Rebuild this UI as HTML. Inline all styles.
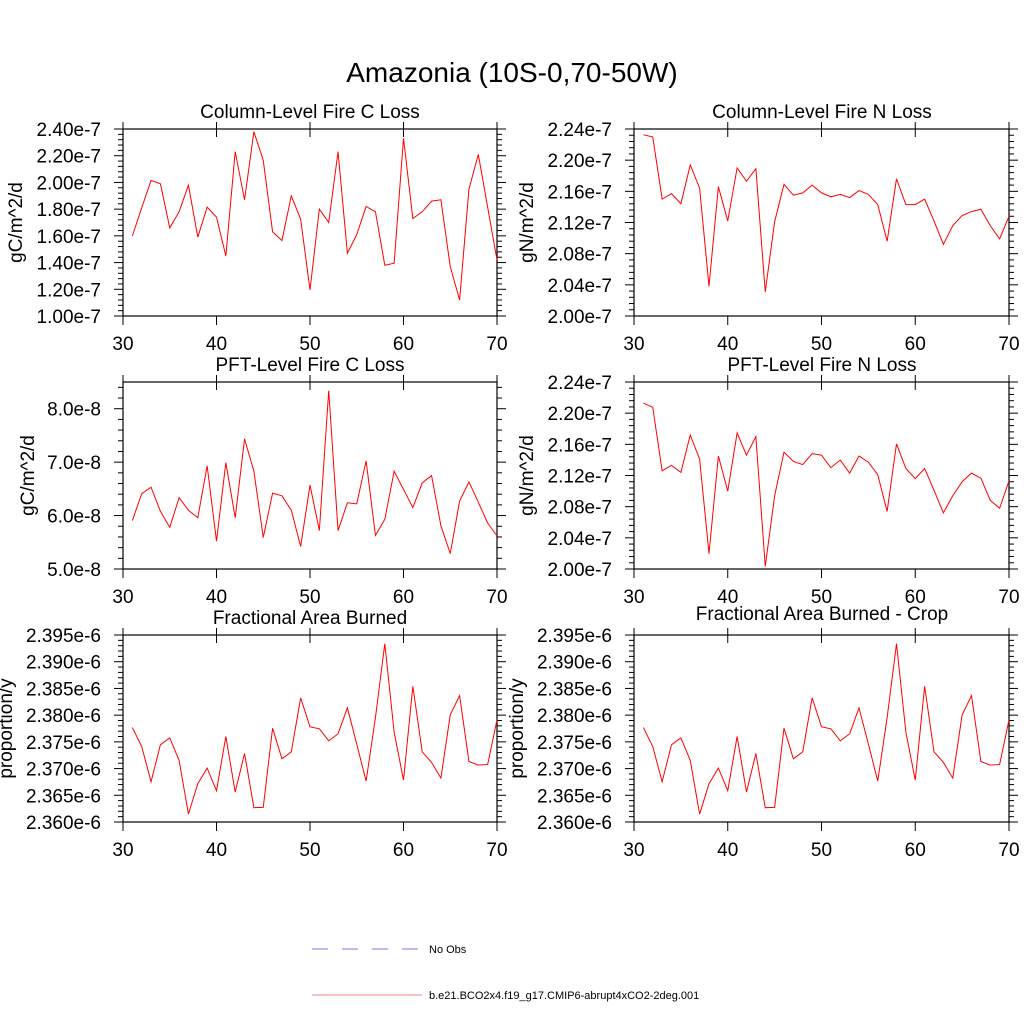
<!DOCTYPE html>
<html><head><meta charset="utf-8"><style>
body{margin:0;background:#fff;}
svg{display:block;font-family:"Liberation Sans",sans-serif;}
</style></head><body>
<svg id="chart" width="1024" height="1024" viewBox="0 0 1024 1024">
<text x="512" y="82" font-size="28" text-anchor="middle">Amazonia (10S-0,70-50W)</text>
<g>
<line x1="312" y1="949" x2="420" y2="949" stroke="#7777ee" stroke-width="1" stroke-dasharray="16,14"/>
<text x="429" y="953" font-size="11">No Obs</text>
<line x1="312" y1="995" x2="422" y2="995" stroke="#f08080" stroke-width="1"/>
<text x="429" y="999" font-size="11">b.e21.BCO2x4.f19_g17.CMIP6-abrupt4xCO2-2deg.001</text>
</g>
</svg>
<script>
const years = [];
for (let y = 31; y <= 70; y++) years.push(y);
const xTicks = [30, 40, 50, 60, 70];

const fireCLoss = [1.60,1.81,2.015,1.99,1.66,1.78,1.98,1.59,1.815,1.74,1.45,2.23,1.87,2.38,2.165,1.63,1.565,1.90,1.725,1.195,1.80,1.70,2.23,1.47,1.61,1.82,1.78,1.38,1.395,2.33,1.73,1.78,1.86,1.87,1.37,1.12,1.95,2.21,1.815,1.42];
const fireNLoss = [2.2327,2.2297,2.150,2.157,2.144,2.194,2.164,2.038,2.166,2.122,2.190,2.173,2.189,2.031,2.121,2.169,2.155,2.158,2.168,2.158,2.153,2.156,2.152,2.161,2.156,2.143,2.096,2.176,2.143,2.143,2.150,2.122,2.092,2.116,2.129,2.134,2.137,2.116,2.099,2.128];
const pftCLoss = [5.907,6.41,6.53,6.08,5.78,6.335,6.10,5.96,6.93,5.52,6.99,5.96,7.435,6.83,5.59,6.42,6.37,6.10,5.42,6.57,5.72,8.335,5.72,6.24,6.22,7.025,5.63,5.93,6.83,6.49,6.15,6.61,6.75,5.81,5.29,6.27,6.63,6.25,5.86,5.62];
const pftNLoss = [2.213,2.2075,2.126,2.133,2.124,2.172,2.141,2.0196,2.145,2.100,2.1746,2.146,2.170,2.0034,2.094,2.150,2.138,2.134,2.148,2.146,2.130,2.140,2.123,2.145,2.137,2.121,2.074,2.1605,2.129,2.116,2.129,2.101,2.072,2.094,2.112,2.123,2.1165,2.088,2.078,2.113];
const areaBurned = [2.37768,2.37413,2.36753,2.37445,2.37575,2.37152,2.36149,2.36716,2.37009,2.36585,2.37600,2.36560,2.37283,2.36268,2.36274,2.37756,2.37183,2.37314,2.38323,2.37781,2.37744,2.37519,2.37650,2.38136,2.37457,2.36766,2.37955,2.39337,2.37681,2.36785,2.38540,2.37314,2.37115,2.36822,2.38005,2.38366,2.37133,2.37065,2.37077,2.37912];
const areaBurnedCrop = areaBurned.slice();

const cLossTicks = ["1.00e-7","1.20e-7","1.40e-7","1.60e-7","1.80e-7","2.00e-7","2.20e-7","2.40e-7"];
const nLossTicks = ["2.00e-7","2.04e-7","2.08e-7","2.12e-7","2.16e-7","2.20e-7","2.24e-7"];
const pftCTicks = ["5.0e-8","6.0e-8","7.0e-8","8.0e-8"];
const areaTicks = ["2.360e-6","2.365e-6","2.370e-6","2.375e-6","2.380e-6","2.385e-6","2.390e-6","2.395e-6"];

const panels = [
 {name:'column-fire-c', title:'Column-Level Fire C Loss', ytitle:'gC/m^2/d', data:fireCLoss, ymin:1.0, ymax:2.4, step:0.2, ticks:cLossTicks, x0:123, x1:497, y0:129, y1:316, tx:310, ty:118, ytx:22},
 {name:'column-fire-n', title:'Column-Level Fire N Loss', ytitle:'gN/m^2/d', data:fireNLoss, ymin:2.0, ymax:2.24, step:0.04, ticks:nLossTicks, x0:634, x1:1009, y0:129, y1:316, tx:822, ty:118, ytx:533},
 {name:'pft-fire-c', title:'PFT-Level Fire C Loss', ytitle:'gC/m^2/d', data:pftCLoss, ymin:5.0, ymax:8.5, step:1.0, ticks:pftCTicks, x0:123, x1:497, y0:382, y1:569, tx:310, ty:371, ytx:34},
 {name:'pft-fire-n', title:'PFT-Level Fire N Loss', ytitle:'gN/m^2/d', data:pftNLoss, ymin:2.0, ymax:2.24, step:0.04, ticks:nLossTicks, x0:634, x1:1009, y0:382, y1:569, tx:822, ty:371, ytx:533},
 {name:'area-burned', title:'Fractional Area Burned', ytitle:'proportion/y', data:areaBurned, ymin:2.360, ymax:2.395, step:0.005, ticks:areaTicks, x0:123, x1:497, y0:635, y1:822, tx:310, ty:624, ytx:12},
 {name:'area-burned-crop', title:'Fractional Area Burned - Crop', ytitle:'proportion/y', data:areaBurnedCrop, ymin:2.360, ymax:2.395, step:0.005, ticks:areaTicks, x0:634, x1:1009, y0:635, y1:822, tx:822, ty:620, ytx:523}
];

const NS = 'http://www.w3.org/2000/svg';
const svg = document.getElementById('chart');
function mk(tag, attrs, parent, txt){
  const e = document.createElementNS(NS, tag);
  for (const k in attrs) e.setAttribute(k, attrs[k]);
  if (txt !== undefined) e.textContent = txt;
  parent.appendChild(e);
  return e;
}
panels.forEach(p => {
  const g = mk('g', {}, svg);
  
  
  const xs = v => p.x0 + (v - 30) / 40 * (p.x1 - p.x0);
  const ys = v => p.y1 - (v - p.ymin) / (p.ymax - p.ymin) * (p.y1 - p.y0);
  const fr = mk('rect', {x:p.x0, y:p.y0, width:p.x1-p.x0, height:p.y1-p.y0, fill:'none', stroke:'#000', 'stroke-width':1.2}, g);
  
  
  xTicks.forEach(t => {
    const x = xs(t);
    mk('line', {x1:x, y1:p.y1, x2:x, y2:p.y1+9, stroke:'#000', 'stroke-width':1}, g);
    mk('line', {x1:x, y1:p.y0-7, x2:x, y2:p.y0+8, stroke:'#000', 'stroke-width':1}, g);
    const lb = mk('text', {x:x, y:p.y1+34, 'font-size':19, 'text-anchor':'middle'}, g, String(t));
    
    
  });
  const minorStep = p.step / 5;
  for (let v = p.ymin; v <= p.ymax + 1e-9; v += minorStep) {
    const y = ys(v);
    const k = Math.round((v - p.ymin) / minorStep);
    const major = k % 5 === 0;
    const L = major ? 9 : 5;
    mk('line', {x1:p.x0-L, y1:y, x2:p.x0, y2:y, stroke:'#000', 'stroke-width':1}, g);
    mk('line', {x1:p.x1, y1:y, x2:p.x1+L, y2:y, stroke:'#000', 'stroke-width':1}, g);
  }
  p.ticks.forEach((lbl, i) => {
    const y = ys(p.ymin + i * p.step);
    const t = mk('text', {x:p.x0-22, y:y+7, 'font-size':19, 'text-anchor':'end'}, g, lbl);
    
    
  });
  const cy = (p.y0 + p.y1) / 2;
  const yt = mk('text', {x:p.ytx, y:cy, 'font-size':19, 'text-anchor':'middle', transform:'rotate(-90 '+p.ytx+' '+cy+')'}, g, p.ytitle);
  
  
  const tt = mk('text', {x:p.tx, y:p.ty, 'font-size':19, 'text-anchor':'middle'}, g, p.title);
  
  
  const pts = p.data.map((v, i) => xs(years[i]).toFixed(2) + ',' + ys(v).toFixed(2)).join(' ');
  const line = mk('polyline', {points:pts, fill:'none', stroke:'#ff0000', 'stroke-width':1}, g);
  
  
});
</script>
</body></html>
